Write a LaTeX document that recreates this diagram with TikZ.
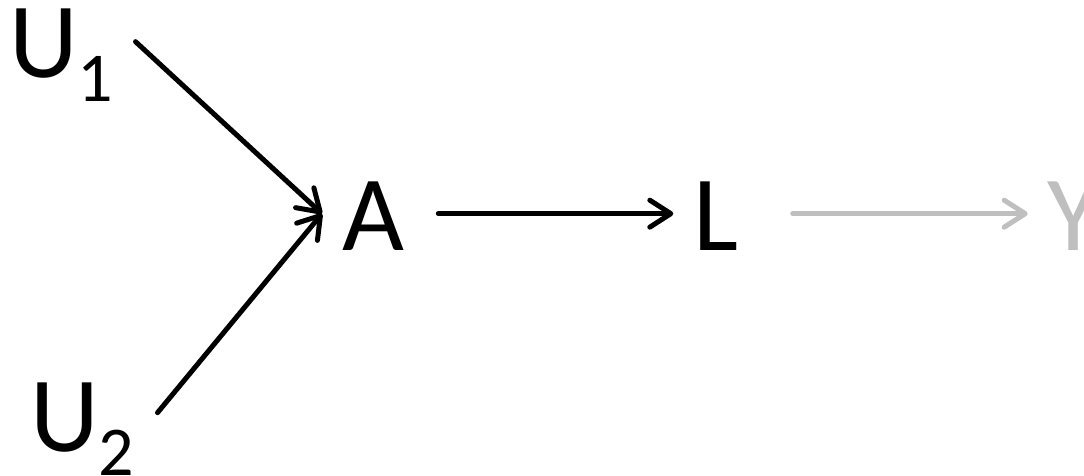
\documentclass[tikz,border=0pt]{standalone}
\usepackage{fontspec}
\setmainfont{Carlito}
\usepackage{tikz}
\usetikzlibrary{arrows.meta,positioning}
\definecolor{fadedgray}{RGB}{191,191,191}
\newcommand{\usub}[1]{U\raisebox{-24pt}{\fontsize{70}{72}\selectfont #1}}

\begin{document}
\begin{tikzpicture}[
  x=1pt, y=1pt,
  var/.style={inner sep=0pt, font=\fontsize{107}{120}\selectfont},
  arrow/.style={-{Straight Barb[length=21pt,width=27pt,round]}, line width=5pt, line cap=round}
]
  \useasboundingbox (0,0) rectangle (1084,-476);
  \node[var, anchor=base west] (u1) at (9,-78) {\usub{1}};
  \node[var, anchor=base west] (u2) at (30,-451) {\usub{2}};
  \node[var, anchor=base west] (a) at (342,-250) {A};
  \node[var, base right=289pt of a] (l) {L};
  \node[var, base right=309pt of l, text=fadedgray] (y) {Y};

  \draw[arrow] ([shift={(22pt,14pt)}]u1.east) -- ([shift={(-20pt,2pt)}]a.west);
  \draw[arrow] ([shift={(23pt,16pt)}]u2.east) -- ([shift={(-20pt,2pt)}]a.west);
  \draw[arrow] ([shift={(34pt,2pt)}]a.east) -- ([shift={(-20pt,2pt)}]l.west);
  \draw[arrow, fadedgray] ([shift={(54pt,2pt)}]l.east) -- ([shift={(-20pt,2pt)}]y.west);
\end{tikzpicture}
\end{document}
